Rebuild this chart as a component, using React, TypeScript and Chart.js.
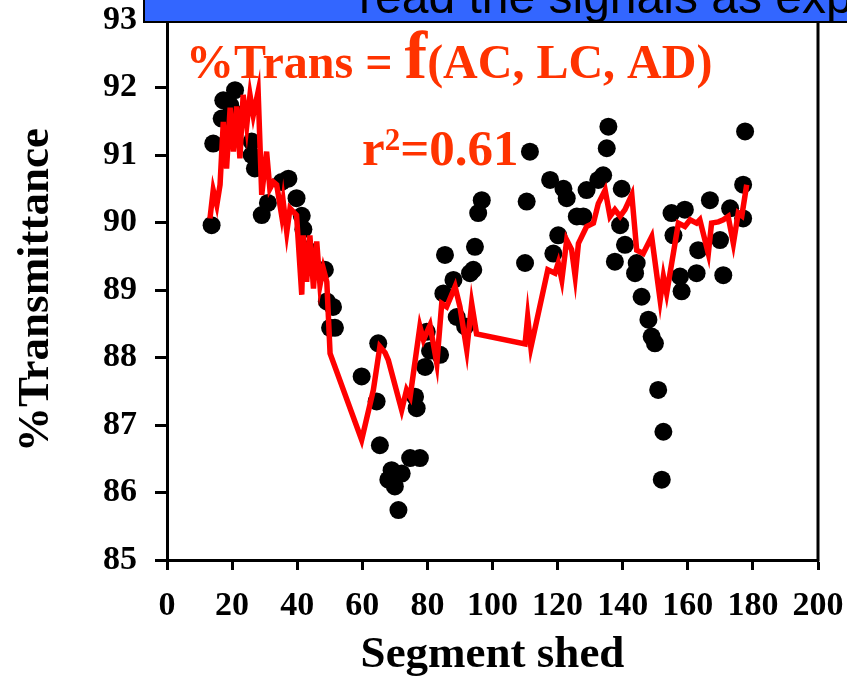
import React, { useEffect, useRef } from "react";
import { Chart, registerables } from "chart.js";

Chart.register(...registerables);

// ---------- data ----------
const measuredX = [
  13.7, 14.2, 16.8, 17.3, 19.4, 20.9, 22.5, 26.0, 26.0, 27.0, 29.1, 31.0, 35.2, 37.3, 39.8, 41.4, 41.9, 43.0,
  48.5, 49.1, 50.1, 51.0, 51.6, 59.8, 64.4, 64.9, 65.4, 68.0, 69.0, 70.0, 71.1, 72.1, 74.7, 76.2, 76.7, 77.7,
  79.3, 79.8, 80.8, 83.9, 84.9, 85.4, 88.0, 89.0, 91.6, 93.1, 94.1, 94.6, 95.6, 96.7, 110.0, 110.5, 111.5,
  117.7, 118.7, 120.2, 121.8, 122.8, 125.9, 127.9, 128.9, 132.5, 134.0, 135.1, 135.6, 137.6, 139.2, 139.7,
  140.7, 143.8, 144.3, 145.8, 147.9, 148.9, 149.9, 150.9, 152.0, 152.5, 155.0, 155.6, 157.6, 158.1, 159.1,
  162.7, 163.2, 166.8, 169.9, 170.9, 173.0, 177.0, 177.0, 177.6,
];
const measuredY = [
  89.96, 91.17, 91.54, 91.81, 91.74, 91.96, 91.6, 91.2, 91.0, 90.8, 90.11, 90.29, 90.6, 90.65, 90.36, 90.1, 89.9, 89.6,
  89.3, 88.83, 88.44, 88.75, 88.44, 87.72, 87.35, 88.21, 86.7, 86.19, 86.33, 86.09, 85.74, 86.28, 86.51, 87.42, 87.25, 86.51,
  87.86, 88.38, 88.1, 88.04, 88.95, 89.52, 89.15, 88.6, 88.46, 89.25, 89.3, 89.64, 90.14, 90.33, 89.4, 90.31, 91.05,
  90.63, 89.54, 89.81, 90.5, 90.36, 90.09, 90.09, 90.48, 90.63, 90.7, 91.1, 91.42, 89.42, 89.96, 90.5,
  89.67, 89.25, 89.4, 88.9, 88.56, 88.31, 88.21, 87.52, 86.19, 86.9, 90.14, 89.81, 89.2, 88.98, 90.19,
  89.25, 89.59, 90.33, 89.74, 89.22, 90.21, 90.06, 90.56, 91.35,
];

const modelX = [
  13.2, 14.2, 15.3, 16.3, 17.3, 18.3, 19.4, 20.4, 21.4, 22.4, 23.4, 24.5, 25.5, 26.5, 28.0, 29.1, 30.6, 31.6,
  32.7, 33.7, 35.2, 35.7, 36.8, 37.8, 39.8, 41.4, 41.9, 42.9, 43.9, 45.0, 46.0, 47.0, 48.0, 49.1, 50.1, 59.8,
  63.4, 65.4, 67.0, 68.0, 72.1, 73.6, 74.7, 77.7, 78.8, 80.8, 82.9, 84.4, 85.9, 88.5, 90.0, 92.1, 93.6, 95.1,
  110.0, 110.8, 111.8, 117.0, 119.2, 120.2, 121.3, 122.8, 124.3, 125.4, 126.4, 128.9, 131.0, 132.5, 134.6,
  136.1, 137.6, 139.2, 140.7, 142.8, 144.3, 146.3, 148.9, 151.5, 152.5, 153.5, 157.1, 159.1, 160.7, 162.7,
  163.7, 166.3, 167.3, 169.4, 170.9, 172.4, 174.0, 175.5, 176.6, 178.1,
];
const modelY = [
  90.06, 90.48, 90.26, 90.56, 91.49, 90.8, 91.7, 91.05, 91.72, 90.95, 91.89, 91.44, 91.89, 91.59, 91.94, 90.41, 91.05, 90.5,
  90.6, 90.56, 90.11, 90.31, 89.86, 90.21, 90.11, 88.93, 89.81, 89.12, 89.81, 89.02, 89.72, 89.07, 89.32, 89.12, 88.06, 86.78,
  87.52, 88.16, 88.07, 87.96, 87.22, 87.52, 87.42, 88.46, 88.26, 88.48, 87.91, 88.8, 88.75, 89.05, 88.75, 88.11, 88.8, 88.35,
  88.2, 88.6, 88.15, 89.3, 89.25, 89.4, 89.15, 89.74, 89.6, 89.2, 89.69, 89.94, 89.99, 90.28, 90.48,
  90.09, 90.19, 90.09, 90.19, 90.41, 89.59, 89.54, 89.79, 88.85, 89.2, 88.95, 89.99, 89.94, 90.04, 89.99,
  90.04, 89.54, 89.99, 90.01, 90.04, 90.09, 89.69, 90.14, 90.1, 90.56,
];

const xTicks = [0, 20, 40, 60, 80, 100, 120, 140, 160, 180, 200];
const yTicks = [85, 86, 87, 88, 89, 90, 91, 92, 93];

const xTitle = "Segment shed";
const yTitle = "%Transmittance";
const bannerText = "read the signals as expected";
const formulaLeft = "%Trans = ";
const formulaF = "f";
const formulaRight = "(AC, LC, AD)";
const rLabel = "r";
const rSup = "2";
const rValue = "=0.61";

const SERIF = '"Liberation Serif", "Times New Roman", serif';
const SANS = '"Liberation Sans", Arial, sans-serif';
const ANNOT = "#FF3300";

const overlayPlugin = {
  id: "overlay",
  afterDraw(chart: any) {
    const ctx = chart.ctx as CanvasRenderingContext2D;
    const ca = chart.chartArea;
    ctx.save();
    // right frame line
    ctx.strokeStyle = "#000";
    ctx.lineWidth = 3;
    ctx.beginPath();
    ctx.moveTo(ca.right, ca.top);
    ctx.lineTo(ca.right, ca.bottom + 1.5);
    ctx.stroke();

    // formula annotation
    ctx.fillStyle = ANNOT;
    ctx.textBaseline = "alphabetic";
    ctx.textAlign = "left";
    let x = 186;
    ctx.font = `bold 48px ${SERIF}`;
    ctx.fillText(formulaLeft, x, 78);
    x += ctx.measureText(formulaLeft).width;
    ctx.font = `bold 68px ${SERIF}`;
    ctx.fillText(formulaF, x, 78);
    x += ctx.measureText(formulaF).width;
    ctx.font = `bold 48px ${SERIF}`;
    ctx.fillText(formulaRight, x, 78);

    // r^2 annotation
    x = 362;
    ctx.font = `bold 51px ${SERIF}`;
    ctx.fillText(rLabel, x, 165);
    x += ctx.measureText(rLabel).width;
    ctx.font = `bold 31px ${SERIF}`;
    ctx.fillText(rSup, x, 150);
    x += ctx.measureText(rSup).width;
    ctx.font = `bold 51px ${SERIF}`;
    ctx.fillText(rValue, x, 165);

    // banner
    ctx.fillStyle = "#3366FF";
    ctx.fillRect(143, 0, 720, 23);
    ctx.fillStyle = "#000";
    ctx.fillRect(143, 0, 2, 23);
    ctx.fillRect(143, 21, 720, 2);
    ctx.save();
    ctx.beginPath();
    ctx.rect(145, 0, 720, 21);
    ctx.clip();
    ctx.font = `48px ${SANS}`;
    ctx.fillStyle = "#000";
    ctx.fillText(bannerText, 359, 13);
    ctx.restore();
    ctx.restore();
  },
};

export default function App() {
  const ref = useRef<HTMLCanvasElement | null>(null);

  useEffect(() => {
    if (!ref.current) return;
    const measured = measuredX.map((x, i) => ({ x, y: measuredY[i] }));
    const model = modelX.map((x, i) => ({ x, y: modelY[i] }));
    const chart = new Chart(ref.current, {
      type: "scatter",
      data: {
        datasets: [
          {
            type: "line",
            label: "Model",
            data: model,
            borderColor: "#FF0000",
            backgroundColor: "#FF0000",
            borderWidth: 5.5,
            pointRadius: 0,
            tension: 0,
            fill: false,
            order: 0,
          } as any,
          {
            type: "scatter",
            label: "Measured",
            data: measured,
            backgroundColor: "#000",
            borderColor: "#000",
            borderWidth: 0,
            pointRadius: 9,
            order: 1,
          },
        ],
      },
      options: {
        responsive: false,
        animation: false,
        devicePixelRatio: 1,
        layout: { padding: { top: 20, right: 29, left: 0, bottom: 0 } },
        plugins: { legend: { display: false }, tooltip: { enabled: false } },
        scales: {
          x: {
            type: "linear",
            min: 0,
            max: 200,
            afterBuildTicks: (s: any) => {
              s.ticks = xTicks.map((v) => ({ value: v }));
            },
            afterFit: (s: any) => {
              s.height = 118;
              s.paddingLeft = 0;
              s.paddingRight = 0;
            },
            grid: {
              display: true,
              drawOnChartArea: false,
              drawTicks: true,
              tickLength: 10,
              tickWidth: 3,
              color: "#000",
            },
            border: { display: true, width: 3, color: "#000" },
            ticks: {
              color: "#000",
              padding: 16,
              maxRotation: 0,
              autoSkip: false,
              font: { family: SERIF, size: 34, weight: "bold", lineHeight: 1.2 },
            },
            title: {
              display: true,
              text: xTitle,
              color: "#000",
              padding: { top: 0, bottom: 0 },
              font: { family: SERIF, size: 45, weight: "bold", lineHeight: 1.0 },
            },
          },
          y: {
            type: "linear",
            min: 85,
            max: 93,
            afterBuildTicks: (s: any) => {
              s.ticks = yTicks.map((v) => ({ value: v }));
            },
            afterFit: (s: any) => {
              s.width = 167;
              s.paddingTop = 0;
              s.paddingBottom = 0;
            },
            grid: {
              display: true,
              drawOnChartArea: false,
              drawTicks: true,
              tickLength: 12,
              tickWidth: 3,
              color: "#000",
            },
            border: { display: true, width: 3, color: "#000" },
            ticks: {
              color: "#000",
              padding: 18,
              autoSkip: false,
              font: { family: SERIF, size: 34, weight: "bold", lineHeight: 1.0 },
            },
            title: {
              display: true,
              text: yTitle,
              color: "#000",
              padding: { top: 14, bottom: 0 },
              font: { family: SERIF, size: 45, weight: "bold", lineHeight: 1.0 },
            },
          },
        },
      },
      plugins: [overlayPlugin],
    });
    return () => chart.destroy();
  }, []);

  return (
    <div style={{ position: "fixed", left: 0, top: 0, width: 847, height: 678, background: "#fff" }}>
      <canvas ref={ref} width={847} height={678} style={{ display: "block" }} />
    </div>
  );
}
